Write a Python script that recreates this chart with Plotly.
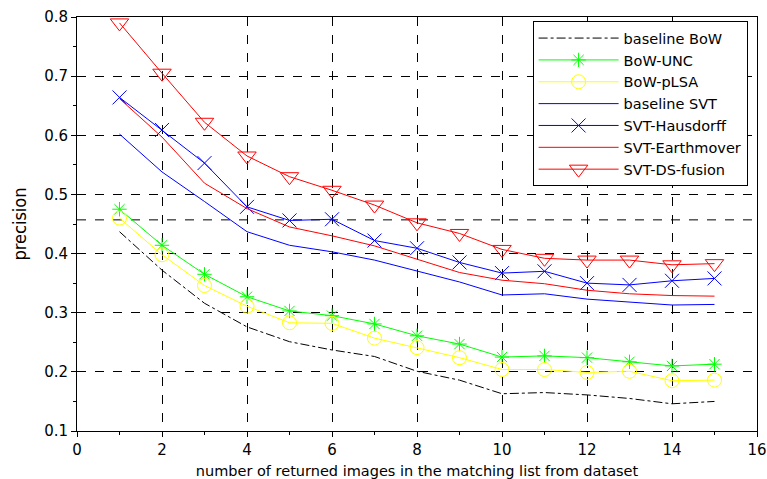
import plotly.graph_objects as go

x = list(range(1, 16))
baseline_bow = [0.437, 0.372, 0.316, 0.276, 0.251, 0.237, 0.226, 0.201, 0.186, 0.163, 0.165, 0.161, 0.155, 0.146, 0.150]
bow_unc = [0.475, 0.414, 0.365, 0.327, 0.303, 0.295, 0.281, 0.261, 0.247, 0.225, 0.227, 0.224, 0.217, 0.210, 0.213]
bow_plsa = [0.460, 0.398, 0.346, 0.311, 0.283, 0.282, 0.257, 0.241, 0.224, 0.204, 0.204, 0.199, 0.201, 0.185, 0.186]
baseline_svt = [0.602, 0.538, 0.488, 0.437, 0.414, 0.403, 0.389, 0.371, 0.352, 0.330, 0.332, 0.323, 0.318, 0.313, 0.314]
svt_hausdorff = [0.664, 0.609, 0.553, 0.479, 0.456, 0.458, 0.422, 0.409, 0.385, 0.367, 0.370, 0.350, 0.347, 0.354, 0.358]
svt_earthmover = [0.662, 0.597, 0.519, 0.476, 0.445, 0.430, 0.413, 0.390, 0.368, 0.355, 0.349, 0.338, 0.332, 0.329, 0.328]
svt_ds_fusion = [0.790, 0.705, 0.622, 0.565, 0.530, 0.507, 0.482, 0.452, 0.434, 0.407, 0.392, 0.389, 0.389, 0.381, 0.383]
extra_grid_y = 0.457

FONT = "DejaVu Sans"
fig = go.Figure()

def add(name, y, color, dash="solid", symbol=None, size=10):
    mode = "lines+markers" if symbol else "lines"
    kw = dict(marker=dict(symbol=symbol, size=size, color=color, line=dict(color=color, width=1))) if symbol else {}
    fig.add_trace(go.Scatter(x=x, y=y, name=name, mode=mode,
                             line=dict(color=color, width=1, dash=dash), **kw))

add("baseline BoW", baseline_bow, "black", dash="dashdot")
add("BoW-UNC", bow_unc, "#00ff00", symbol="asterisk-open", size=12)
add("BoW-pLSA", bow_plsa, "#ffff00", symbol="circle-open", size=14)
add("baseline SVT", baseline_svt, "#0000ff")
add("SVT-Hausdorff", svt_hausdorff, "#0000ff", symbol="x-thin-open", size=14)
add("SVT-Earthmover", svt_earthmover, "#ff0000")
add("SVT-DS-fusion", svt_ds_fusion, "#ff0000", symbol="triangle-down-open", size=16)

fig.add_shape(type="line", xref="paper", yref="y", x0=0, x1=1, y0=extra_grid_y, y1=extra_grid_y,
              line=dict(color="black", width=1, dash="dash"), layer="below")

axis_common = dict(showline=True, linecolor="black", linewidth=1, mirror=True,
                   ticks="outside", ticklen=5, tickcolor="black", automargin=False,
                   showgrid=True, gridcolor="black", gridwidth=1, griddash="dash",
                   zeroline=False, tickfont=dict(family=FONT, size=15, color="black"))

fig.update_xaxes(range=[0, 16], dtick=2, tick0=0,
                 minor=dict(dtick=1, ticks="outside", ticklen=3, tickcolor="black", showgrid=False),
                 title=dict(text="number of returned images in the matching list from dataset",
                            font=dict(family=FONT, size=14.5, color="black"), standoff=12),
                 **axis_common)
fig.update_yaxes(range=[0.1, 0.8], dtick=0.1, tick0=0.1, tickformat=".1f",
                 minor=dict(dtick=0.05, ticks="outside", ticklen=3, tickcolor="black", showgrid=False),
                 title=dict(text="precision", font=dict(family="DejaVu Sans Condensed", size=18, color="black"),
                            standoff=12),
                 **axis_common)

fig.update_layout(
    width=767, height=479,
    margin=dict(l=77, r=10, t=17, b=48),
    plot_bgcolor="white", paper_bgcolor="white",
    font=dict(family=FONT, size=15, color="black"),
    legend=dict(x=0.67, y=0.99, xanchor="left", yanchor="top",
                bgcolor="white", bordercolor="black", borderwidth=1,
                font=dict(family=FONT, size=14.5, color="black"),
                tracegroupgap=0, itemwidth=80),
)

fig.write_html("out.html")
